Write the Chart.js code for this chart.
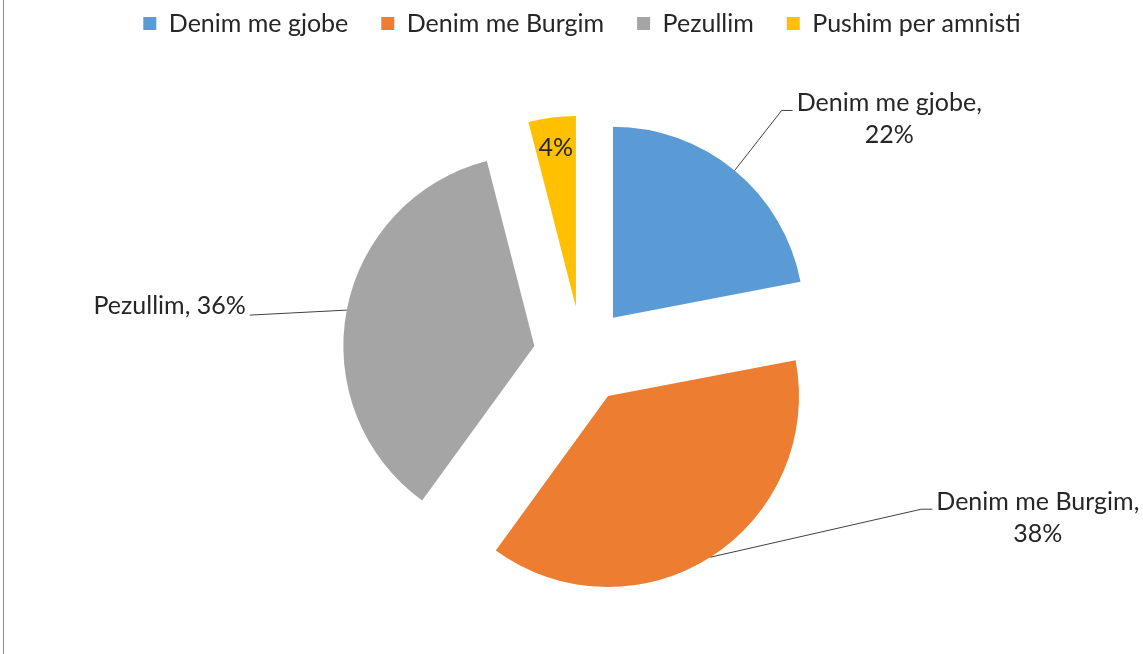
<!DOCTYPE html>
<html>
<head>
<meta charset="utf-8">
<script src="https://cdn.jsdelivr.net/npm/chart.js@4.4.1/dist/chart.umd.min.js"></script>
<style>
  html, body { margin: 0; padding: 0; background: #fff; overflow: hidden; }
  #wrap { position: relative; width: 1143px; height: 654px; overflow: hidden; }
  #wrap::before { content: ""; position: absolute; left: 3px; top: 0; bottom: 0; border-left: 1px solid #8c8c8c; z-index: 1; }
  canvas { display: block; }
</style>
</head>
<body>
<div id="wrap"><canvas id="chart" width="1143" height="664"></canvas></div>
<script>
// data
const categories = ["Denim me gjobe", "Denim me Burgim", "Pezullim", "Pushim per amnisti"];
const shares = [22, 38, 36, 4];

// styles
const sliceColors = ["#5B9BD5", "#ED7D31", "#A5A5A5", "#FFC000"];
const textColor = "#262626";
const fontFamily = "Lato";
const fontSize = 25;

// where each data label sits, relative to the middle of its slice's arc
const labelPlacement = [
  { side: "right", dx: 47, dy: -60 },
  { side: "right", dx: 211, dy: -48 },
  { side: "left", dx: -97, dy: 5 },
  { side: "inside", at: 0.84 }
];

// pull every slice out along its middle angle (like Excel "explosion")
const explode = {
  id: "explode",
  beforeDatasetsDraw(chart, args, opts) {
    const area = chart.chartArea;
    const cx = (area.left + area.right) / 2;
    const cy = (area.top + area.bottom) / 2;
    chart.getDatasetMeta(0).data.forEach(arc => {
      const mid = (arc.startAngle + arc.endAngle) / 2;
      arc.x = cx + Math.cos(mid) * opts.distance;
      arc.y = cy + Math.sin(mid) * opts.distance;
    });
  }
};

// data labels with leader lines
const pieLabels = {
  id: "pieLabels",
  afterDatasetsDraw(chart) {
    const ctx = chart.ctx;
    ctx.save();
    ctx.font = fontSize + "px " + fontFamily;
    ctx.fillStyle = textColor;
    ctx.strokeStyle = "#404040";
    ctx.lineWidth = 1;
    chart.getDatasetMeta(0).data.forEach((arc, i) => {
      const mid = (arc.startAngle + arc.endAngle) / 2;
      const r = arc.outerRadius;
      const pct = shares[i] + "%";
      const place = labelPlacement[i];
      if (place.side === "inside") {
        ctx.textAlign = "center";
        ctx.textBaseline = "middle";
        ctx.fillText(pct, arc.x + Math.cos(mid) * r * place.at, arc.y + Math.sin(mid) * r * place.at);
        return;
      }
      const ax = arc.x + Math.cos(mid) * r;
      const ay = arc.y + Math.sin(mid) * r;
      const ex = ax + place.dx;
      const ey = ay + place.dy;
      ctx.beginPath();
      ctx.moveTo(ax, ay);
      ctx.lineTo(ex, ey);
      ctx.textBaseline = "alphabetic";
      if (place.side === "right") {
        ctx.lineTo(ex + 11, ey);
        ctx.stroke();
        const lines = [categories[i] + ",", pct];
        const w = Math.max(...lines.map(t => ctx.measureText(t).width));
        const tx = ex + 15 + w / 2;
        ctx.textAlign = "center";
        lines.forEach((t, k) => ctx.fillText(t, tx, ey + 1 + k * 32));
      } else {
        ctx.stroke();
        ctx.textAlign = "right";
        ctx.fillText(categories[i] + ", " + pct, ex - 4, ey - 1);
      }
    });
    ctx.restore();
  }
};

new Chart(document.getElementById("chart"), {
  type: "pie",
  data: {
    labels: categories,
    datasets: [{
      data: shares,
      backgroundColor: sliceColors,
      borderWidth: 0,
      radius: 191
    }]
  },
  options: {
    responsive: false,
    animation: false,
    devicePixelRatio: 1,
    layout: { padding: { top: -22, left: 21, right: 0, bottom: 0 } },
    plugins: {
      legend: {
        position: "top",
        labels: {
          font: { family: fontFamily, size: fontSize },
          color: textColor,
          boxWidth: 13,
          boxHeight: 13,
          padding: 33
        }
      },
      tooltip: { enabled: false },
      explode: { distance: 48.5 }
    }
  },
  plugins: [explode, pieLabels]
});
</script>
</body>
</html>
